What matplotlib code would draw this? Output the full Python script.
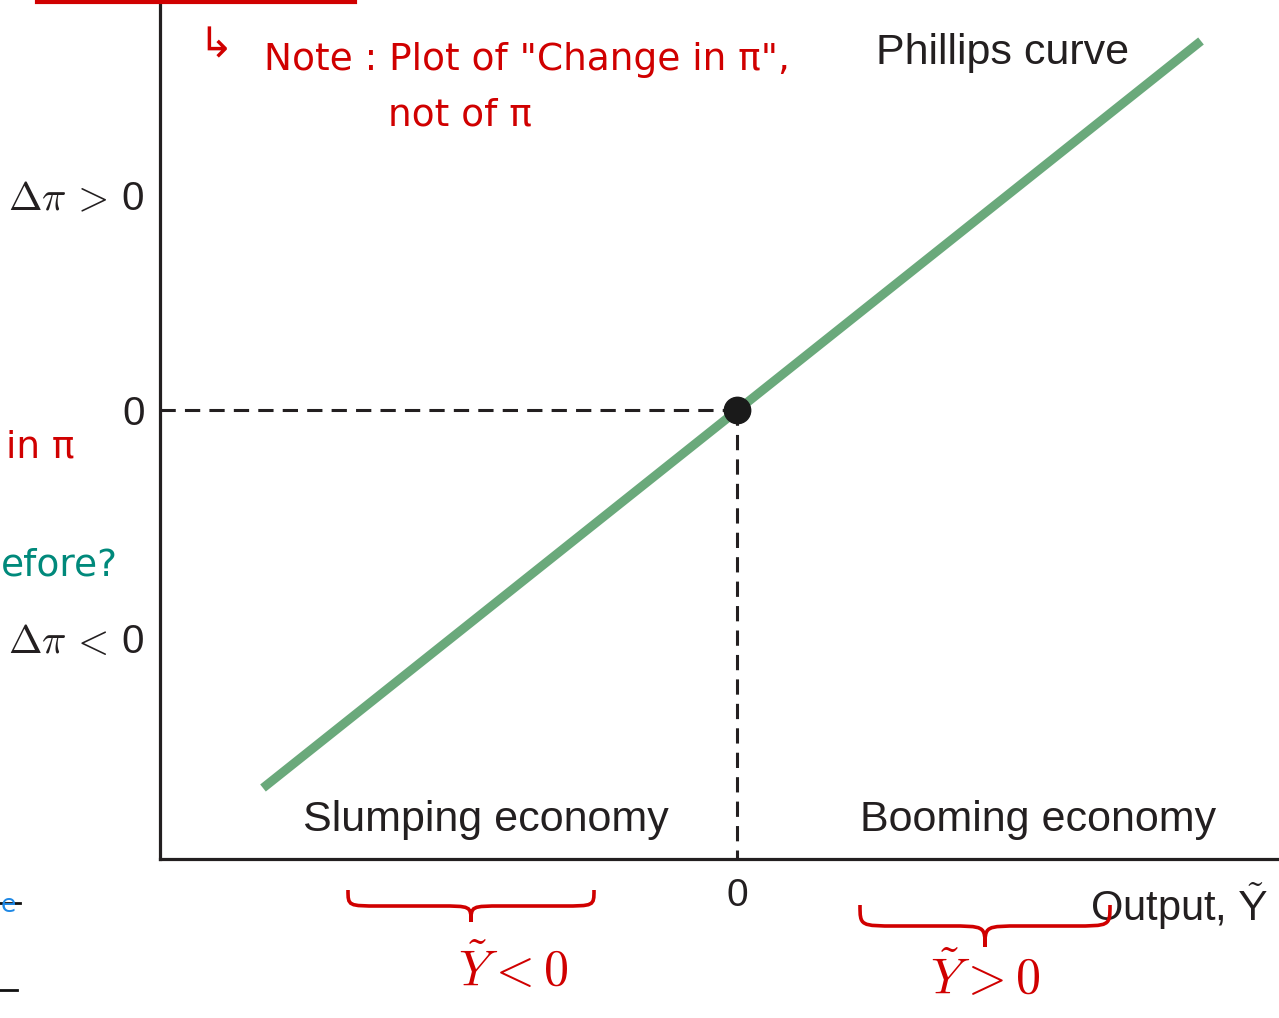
import numpy as np
import matplotlib.pyplot as plt
from matplotlib.path import Path
import matplotlib.patches as patches

plt.rcParams['mathtext.fontset'] = 'cm'
plt.rcParams['font.family'] = ['Liberation Sans', 'DejaVu Sans']

# Phillips curve: change in inflation vs output gap
output_gap = [-4.74, 4.64]
infl_change = [-3.78, 3.69]
eq_x, eq_y = 0.0, 0.0
ytick_pos = [2.15, 0.0, -2.28]
ytick_labels = [r'$\mathbf{\Delta}\pi\,>\,$0', '0', r'$\mathbf{\Delta}\pi\,<\,$0']
xtick_pos = [0.0]
xtick_labels = ['0']
x_range = (-5.77, 5.42)
y_range = (-4.49, 4.10)

W, H = 1279, 1018
fig = plt.figure(figsize=(W / 100, H / 100), dpi=100)
ax = fig.add_axes([160 / W, 159 / H, 1 - 160 / W, 859 / H])
ax.set_facecolor('none')
ax.set_xlim(*x_range)
ax.set_ylim(*y_range)

for s in ['top', 'right']:
    ax.spines[s].set_visible(False)
for s in ['left', 'bottom']:
    ax.spines[s].set_linewidth(2.3)
    ax.spines[s].set_color('#231f20')

ax.set_yticks(ytick_pos, ytick_labels, fontsize=29, color='#231f20')
ax.set_xticks(xtick_pos, xtick_labels, fontsize=28, color='#231f20')
ax.tick_params(axis='y', length=0, pad=11)
ax.tick_params(axis='x', length=0, pad=14)

# dashed guides to the equilibrium point
ax.plot([x_range[0], eq_x], [eq_y, eq_y], color='#231f20', lw=2.2,
        linestyle=(0, (5, 3)), zorder=2)
ax.plot([eq_x, eq_x], [eq_y, y_range[0]], color='#231f20', lw=2.2,
        linestyle=(0, (5, 3)), zorder=2)

ax.plot(output_gap, infl_change, color='#6aa97b', lw=6.5,
        solid_capstyle='butt', zorder=3)
ax.plot(eq_x, eq_y, 'o', color='#1a1a1a', markersize=19, zorder=4)

ax.text(0.753, 0.938, 'Phillips curve', transform=ax.transAxes,
        fontsize=31, color='#231f20', ha='center', va='center')
ax.text(0.291, 0.045, 'Slumping economy', transform=ax.transAxes,
        fontsize=31, color='#231f20', ha='center', va='center')
ax.text(0.785, 0.045, 'Booming economy', transform=ax.transAxes,
        fontsize=31, color='#231f20', ha='center', va='center')
ax.text(0.99, -0.055, r'Output, $\tilde{\mathsf{Y}}$', transform=ax.transAxes,
        fontsize=30, color='#231f20', ha='right', va='center')

# handwritten notes layer (pixel coordinates)
ov = fig.add_axes([0, 0, 1, 1], zorder=5)
ov.set_xlim(0, W)
ov.set_ylim(H, 0)
ov.axis('off')
ov.patch.set_visible(False)

red = '#d00000'


def brace(a, x0, x1, y, h, color):
    xm = (x0 + x1) / 2
    q = min(h, (x1 - x0) * 0.15)
    ym = y + h / 2
    verts = [(x0, y), (x0, ym), (x0, ym), (x0 + q, ym),
             (xm - q, ym),
             (xm, ym), (xm, ym), (xm, y + h),
             (xm, ym), (xm, ym), (xm + q, ym),
             (x1 - q, ym),
             (x1, ym), (x1, ym), (x1, y)]
    codes = [Path.MOVETO] + [Path.CURVE4] * 3 + [Path.LINETO] + \
        [Path.CURVE4] * 6 + [Path.LINETO] + [Path.CURVE4] * 3
    a.add_patch(patches.PathPatch(Path(verts, codes), fill=False,
                                  edgecolor=color, lw=2.6))


ov.plot([37, 355], [2, 2], color=red, lw=3)
ov.text(198, 45, '\u21b3', color=red, fontsize=30, ha='left', va='center',
        family=['DejaVu Sans'])
ov.text(264, 60, 'Note : Plot of "Change in \u03c0",', color=red, fontsize=27,
        ha='left', va='center', family=['DejaVu Sans'])
ov.text(388, 115, 'not of \u03c0', color=red, fontsize=27,
        ha='left', va='center', family=['DejaVu Sans'])
ov.text(75, 447, 'in \u03c0', color=red, fontsize=27, ha='right', va='center',
        family=['DejaVu Sans'])
ov.text(118, 565, 'efore?', color='#00897b', fontsize=27, ha='right',
        va='center', family=['DejaVu Sans'])
ov.text(1, 905, 'e', color='#1e88e5', fontsize=18, ha='left', va='center',
        family=['DejaVu Sans'])
ov.plot([0, 20], [903, 903], color='#111111', lw=2)
ov.plot([0, 17], [990, 990], color='#111111', lw=2)

brace(ov, 348, 594, 890, 32, red)
brace(ov, 860, 1110, 905, 42, red)
ov.text(513, 970, r'$\tilde{Y} < 0$', color=red, fontsize=36,
        ha='center', va='center')
ov.text(985, 978, r'$\tilde{Y} > 0$', color=red, fontsize=36,
        ha='center', va='center')

fig.savefig('out.png', dpi=100)
